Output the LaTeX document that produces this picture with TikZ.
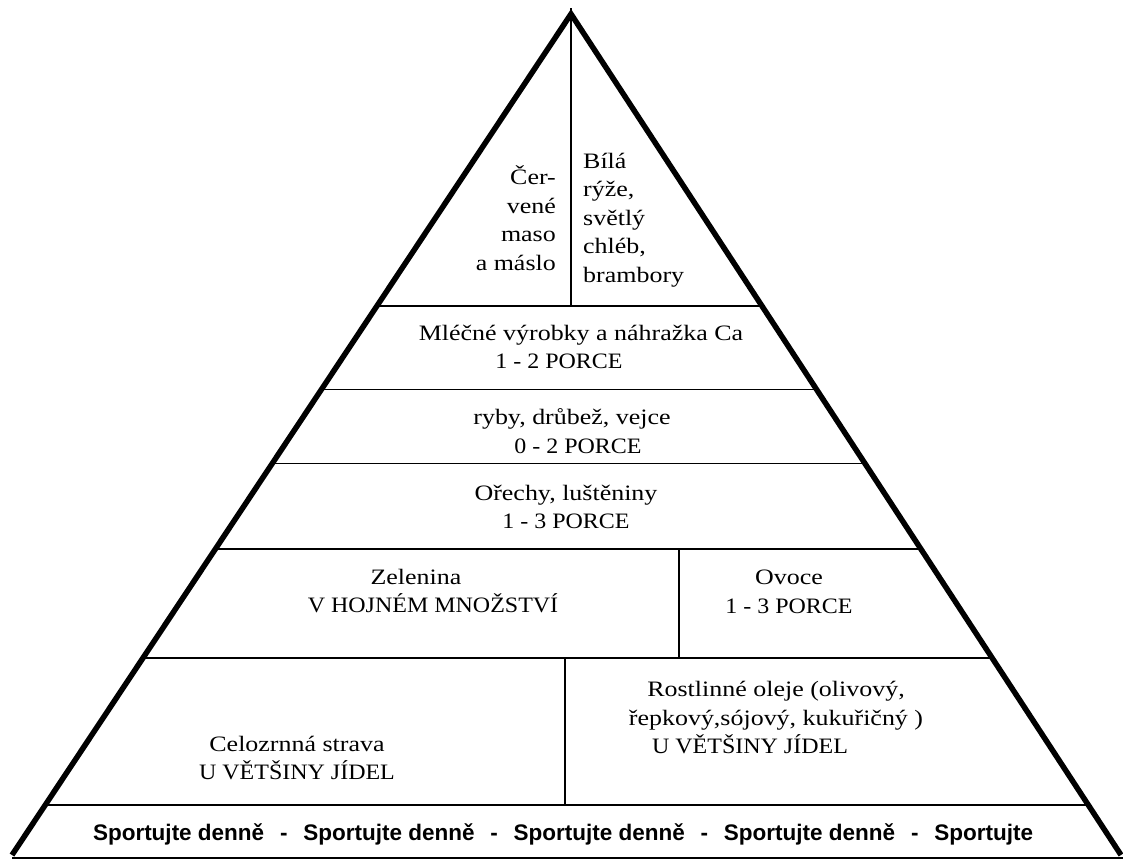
\documentclass[tikz,border=0pt]{standalone}
\usepackage{fontspec}
\usetikzlibrary{calc}
\newfontfamily\pyrfont[FakeStretch=1.18]{Liberation Serif}
\newfontfamily\pyrcaps[FakeStretch=1.09]{Liberation Serif}
\newfontfamily\bandfont{Liberation Sans}
\newcommand\pyrhl[1]{\draw[hline] ($(A)!{(#1-15)/840}!(BL)$) -- ($(A)!{(#1-15)/840}!(BR)$);}
\begin{document}
\begin{tikzpicture}[x=1pt,y=-1pt,
  edge/.style={line width=5.5pt, line join=miter},
  hline/.style={line width=1.9pt},
  vline/.style={line width=1.3pt},
  lbl/.style={font=\pyrfont\fontsize{22}{28.5}\selectfont, align=center, inner sep=0pt},
  band/.style={font=\bandfont\bfseries\fontsize{22.5}{24}\selectfont, inner sep=0pt}]
\fill[white] (0,0) rectangle (1123,862);
\useasboundingbox (0,0) rectangle (1123,862);
\coordinate (A) at (571,14);
\coordinate (BL) at (12,855);
\coordinate (BR) at (1121,855);
\coordinate (top) at (571,8);
% horizontal dividers
\pyrhl{307}
\pyrhl{390}
\pyrhl{464}
\pyrhl{549}
\pyrhl{658}
\pyrhl{805}
\draw[hline] (12,858) -- (1123,858);
% vertical dividers
\draw[vline] (top) -- (571,307);
\draw[vline] (679,549) -- (679,658);
\draw[vline] (565,658) -- (565,805);
% pyramid sides
\draw[edge] (BL) -- (A) -- (BR);
% labels
\node[lbl, align=right, anchor=east] (maso) at (556,218) {Čer-\\vené\\maso\\a máslo};
\node[lbl, align=left, anchor=west] (ryze) at (583,220) {Bílá\\rýže,\\světlý\\chléb,\\brambory};
\node[lbl] (mlecne) at (581,347) {Mléčné výrobky a náhražka Ca\\\hspace*{-44pt}{\pyrcaps 1 - 2 PORCE}};
\node[lbl] (ryby) at (572,431) {ryby, drůbež, vejce\\\hspace*{12pt}{\pyrcaps 0 - 2 PORCE}};
\node[lbl] (orechy) at (566,507) {Ořechy, luštěniny\\{\pyrcaps 1 - 3 PORCE}};
\node[lbl] (zelenina) at (433,591) {\hspace*{-34pt}Zelenina\\{\pyrcaps V HOJNÉM MNOŽSTVÍ}};
\node[lbl] (ovoce) at (789,592) {Ovoce\\{\pyrcaps 1 - 3 PORCE}};
\node[lbl] (celozrnna) at (297,758) {Celozrnná strava\\{\pyrcaps U VĚTŠINY JÍDEL}};
\node[lbl] (oleje) at (776,718) {Rostlinné oleje (olivový,\\řepkový,sójový, kukuřičný )\\\hspace*{-52pt}{\pyrcaps U VĚTŠINY JÍDEL}};
\node[band, anchor=base] (sport) at (563,840) {\makebox[940pt][s]{Sportujte denně\hfill-\hfill Sportujte denně\hfill-\hfill Sportujte denně\hfill-\hfill Sportujte denně\hfill-\hfill Sportujte}};
\end{tikzpicture}
\end{document}
